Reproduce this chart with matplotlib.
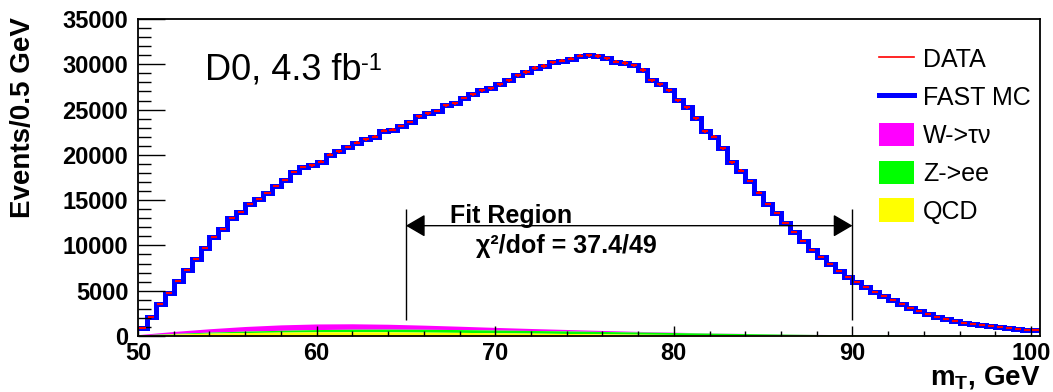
import matplotlib
matplotlib.use("Agg")
import matplotlib.pyplot as plt
import numpy as np
from matplotlib.lines import Line2D
from matplotlib.patches import Patch
from matplotlib.ticker import MultipleLocator

plt.rcParams['font.family'] = ['Liberation Sans', 'DejaVu Sans']

# Transverse mass histogram, 0.5 GeV bins from 50 to 100.5 GeV
bin_edges = np.arange(50.0, 100.5001, 0.5)
data_counts = [
    920, 2130, 3500, 4710, 6040, 7250, 8530, 9750, 10930, 11780,
    13060, 13690, 14540, 15120, 15820, 16530, 17190, 18100, 18660, 18840,
    19240, 20020, 20390, 20870, 21340, 21720, 22000, 22670, 22780, 23180,
    23630, 24250, 24590, 24840, 25470, 25720, 26280, 26680, 27160, 27380,
    27820, 28260, 28810, 29150, 29590, 29810, 30220, 30390, 30610, 30940,
    30990, 30910, 30650, 30290, 30140, 29880, 29370, 28260, 27820, 27160,
    26050, 25270, 24030, 22600, 22000, 20720, 19170, 18250, 17080, 15840,
    14570, 13540, 12440, 11450, 10520, 9490, 8690, 7950, 7210, 6550,
    5990, 5440, 4890, 4420, 3970, 3530, 3130, 2760, 2390, 2130,
    1880, 1660, 1470, 1320, 1210, 1100, 990, 920, 810, 700,
    630,
]
fast_mc_counts = list(data_counts)

# Background contributions (stacked: QCD, Z->ee, W->tau nu)
bg_mt = [50, 52, 54, 56, 58, 60, 62, 64, 66, 68, 70, 72, 74, 76, 78, 80,
         82, 84, 86, 88, 90, 92, 94, 96, 98, 100.5]
qcd = [100, 220, 320, 380, 430, 460, 470, 460, 430, 400, 360, 320, 280, 240,
       200, 170, 140, 115, 95, 80, 70, 60, 50, 45, 40, 35]
z_ee = [20, 60, 110, 160, 200, 250, 280, 300, 310, 310, 300, 290, 280, 260,
        240, 210, 180, 150, 120, 90, 70, 55, 50, 45, 40, 35]
w_taunu = [30, 220, 370, 510, 600, 620, 600, 540, 460, 370, 290, 220, 160,
           110, 70, 40, 25, 15, 10, 6, 4, 3, 2, 1, 1, 0]

fit_lo, fit_hi = 65, 90
chi2_text = "χ²/dof = 37.4/49"

W, H = 1053, 392
fig = plt.figure(figsize=(W / 100, H / 100), dpi=100)
ax = fig.add_axes([138 / W, 1 - 336 / H, (1040 - 138) / W, (336 - 19) / H])

x = np.array(bg_mt, dtype=float)
q = np.array(qcd, dtype=float)
z = q + np.array(z_ee, dtype=float)
w = z + np.array(w_taunu, dtype=float)
ax.fill_between(x, z, w, color='#FF00FF', lw=0)
ax.fill_between(x, q, z, color='#00FF00', lw=0)
ax.fill_between(x, 0, q, color='#FFFF00', lw=0)

ax.stairs(fast_mc_counts, bin_edges, color='#0000FF', lw=3.6, baseline=None)

centers = 0.5 * (bin_edges[:-1] + bin_edges[1:])
dc = np.array(data_counts, dtype=float)
ax.errorbar(centers, dc, xerr=0.17, yerr=np.sqrt(dc), fmt='none',
            ecolor='#FF0000', elinewidth=1.5, capsize=0)

# Fit region markers
ax.vlines([fit_lo, fit_hi], 1770, 14020, color='black', lw=1.0)
ax.annotate('', xy=(fit_lo, 12180), xytext=(fit_hi, 12180),
            arrowprops=dict(arrowstyle='<|-|>,head_length=1.2,head_width=0.7',
                            color='black', lw=1.0, shrinkA=0, shrinkB=0,
                            mutation_scale=10))
ax.text(67.45, 12500, 'Fit Region', fontsize=18, fontweight='bold',
        ha='left', va='baseline')
ax.text(68.95, 9200, chi2_text, fontsize=18, fontweight='bold',
        ha='left', va='baseline')
lumi = ax.text(53.75, 28370, 'D0, 4.3 fb', fontsize=26,
               ha='left', va='baseline')
ax.annotate('-1', xy=(1.0, 0.48), xycoords=lumi, fontsize=17,
            ha='left', va='baseline')

ax.set_xlim(50, 100.5)
ax.set_ylim(0, 35000)
ax.xaxis.set_major_locator(MultipleLocator(10))
ax.xaxis.set_minor_locator(MultipleLocator(2))
ax.yaxis.set_major_locator(MultipleLocator(5000))
ax.yaxis.set_minor_locator(MultipleLocator(1000))
ax.tick_params(axis='y', which='major', direction='in', length=19.5, width=1,
               pad=7, labelsize=17, right=False)
ax.tick_params(axis='y', which='minor', direction='in', length=9.5, width=1,
               right=False)
ax.tick_params(axis='x', which='major', direction='in', length=7, width=1,
               pad=4, labelsize=17, top=False)
ax.tick_params(axis='x', which='minor', direction='in', length=3.6, width=1,
               top=False)
for lab in ax.get_xticklabels() + ax.get_yticklabels():
    lab.set_fontweight('bold')
for s in ax.spines.values():
    s.set_linewidth(1.3)

fig.text(23 / W, 1 - 118 / H, 'Events/0.5 GeV', rotation=90, fontsize=20,
         fontweight='bold', ha='center', va='center')
fig.text(1040 / W, 1 - 385 / H, r'm$_{\mathregular{T}}$, GeV', fontsize=20,
         fontweight='bold', ha='right', va='baseline')

handles = [
    Line2D([], [], color='#FF0000', lw=1.2),
    Line2D([], [], color='#0000FF', lw=3.6),
    Patch(facecolor='#FF00FF', edgecolor='none'),
    Patch(facecolor='#00FF00', edgecolor='none'),
    Patch(facecolor='#FFFF00', edgecolor='none'),
]
labels = ['DATA', 'FAST MC', 'W->τν', 'Z->ee', 'QCD']
fig.legend(handles, labels, loc='upper left',
           bbox_to_anchor=(879 / W, 1 - 47 / H), frameon=False, fontsize=18,
           handlelength=1.4, handleheight=1.08, handletextpad=0.36,
           labelspacing=0.5, borderpad=0, borderaxespad=0)

fig.savefig('out.png', dpi=100)
